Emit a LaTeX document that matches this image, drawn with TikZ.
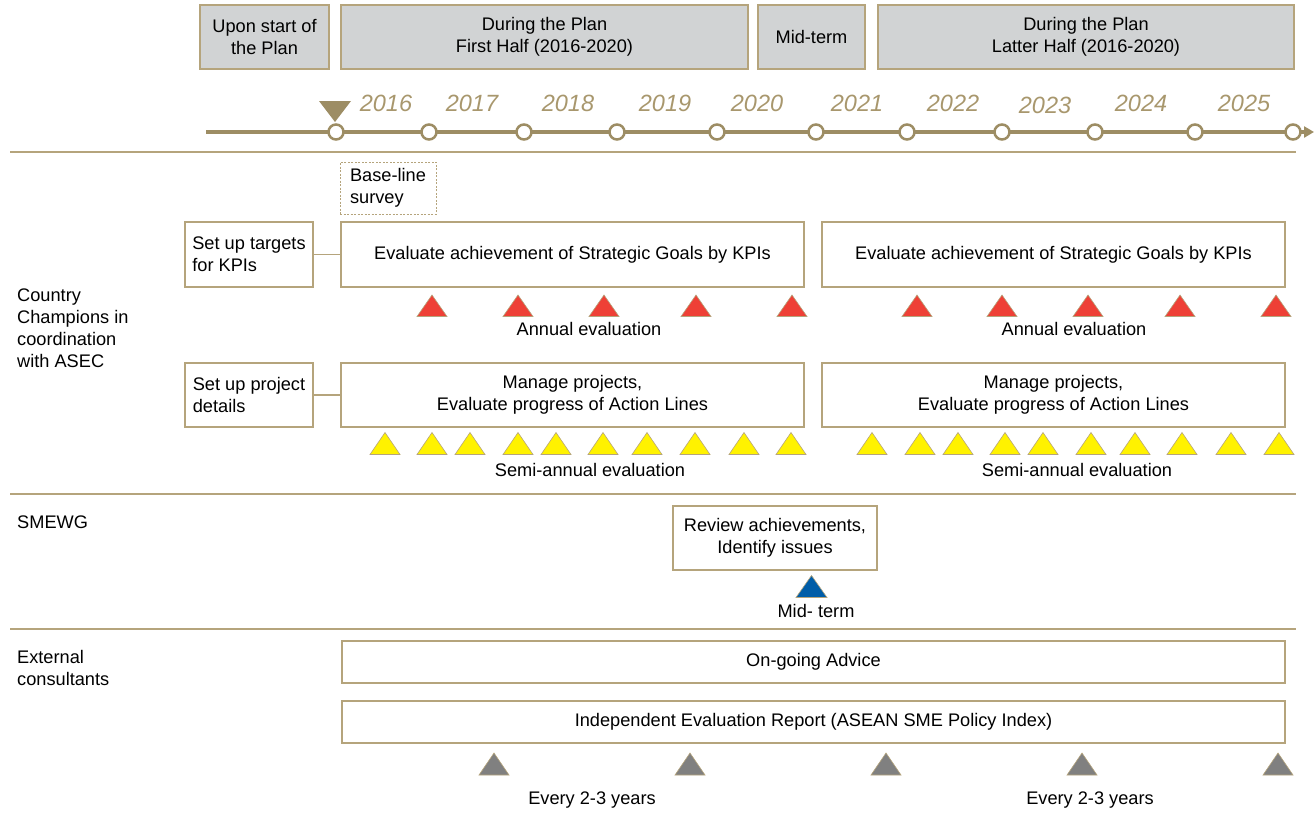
\documentclass[tikz,border=0pt]{standalone}
\usepackage{fontspec}
\setmainfont{Liberation Sans}
\usetikzlibrary{arrows.meta}

\definecolor{tanborder}{HTML}{B5A47C}
\definecolor{tline}{HTML}{9D8D64}
\definecolor{yearcol}{HTML}{A8976D}
\definecolor{headfill}{HTML}{D1D3D4}
\definecolor{tred}{HTML}{EE4036}
\definecolor{tyellow}{HTML}{FFF200}
\definecolor{tblue}{HTML}{005DA8}
\definecolor{tgray}{HTML}{808080}

\begin{document}
\begin{tikzpicture}[x=1pt, y=-1pt,
		every node/.style={font=\fontsize{18.2}{22}\selectfont, inner sep=0pt},
		head/.style={draw=tanborder, line width=1.3pt, fill=headfill, align=center},
		box/.style={draw=tanborder, line width=1.3pt, fill=white, align=center},
		tri/.style={draw=tanborder, line width=0.6pt},
		year/.style={font=\fontsize{23.5}{23.5}\selectfont\itshape, text=yearcol},
		sep/.style={draw=tanborder, line width=1.2pt}]
		\useasboundingbox (0,0) rectangle (1314,814);
		
		% header
		\node[head, minimum width=129, minimum height=64] (Start) at (264.5,37) {Upon start of\\the Plan};
		\node[head, minimum width=407, minimum height=64] (First) at (544.5,37) {During the Plan\\First Half (2016-2020)};
		\node[head, minimum width=107, minimum height=64] (Mid) at (811.5,37) {Mid-term};
		\node[head, minimum width=416, minimum height=64] (Latter) at (1086,37) {During the Plan\\Latter Half (2016-2020)};
		
		% timeline
		\draw[tline, line width=3.8pt, -{Triangle[length=10pt,width=11pt]}] (206,132) -- (1314,132);
		\foreach \x/\n in {336/A,429/B,524/C,617/D,717/E,816/F,907/G,1002/H,1095/I,1195/J,1293/K}
			\node[circle, draw=tline, line width=2.5pt, fill=white, minimum size=15pt] (T\n) at (\x,132) {};
		\fill[tline] (319,101) -- (351,101) -- (335,122) -- cycle;
		\foreach \x/\y/\t in {386/103/2016,472/103/2017,568/103/2018,665/103/2019,757/103/2020,857/103/2021,953/103/2022,1045/105/2023,1141/103/2024,1244/103/2025}
			\node[year] (Y\t) at (\x,\y) {\t};
		
		% rows
		\draw[sep] (10,152) -- (1296,152);
		\draw[sep] (10,494) -- (1296,494);
		\draw[sep] (10,629) -- (1296,629);
		
		\node[anchor=west, align=left] (CC) at (17,328) {Country\\Champions in\\coordination\\with ASEC};
		\node[anchor=west] (SMEWG) at (17,522) {SMEWG};
		\node[anchor=west, align=left] (EC) at (17,668) {External\\consultants};
		
		% country champions
		\node[draw=tanborder, line width=0.8pt, dash pattern=on 2pt off 1.5pt, minimum width=96, minimum height=52, align=left] (Base) at (388,188) {Base-line\\survey};
		\node[box, minimum width=128, minimum height=65, align=left] (KPI) at (249,254.5) {Set up targets\\for KPIs};
		\node[box, minimum width=463, minimum height=65] (GoalsA) at (572.5,254.5) {Evaluate achievement of Strategic Goals by KPIs};
		\node[box, minimum width=463, minimum height=65] (GoalsB) at (1053.5,254.5) {Evaluate achievement of Strategic Goals by KPIs};
		\draw[tanborder, line width=1.3pt] (KPI) -- (GoalsA);
		\foreach \x in {432,518,604,696,792,917,1002,1088,1180,1276}
			\filldraw[tri, fill=tred] (\x-15,316.5) -- (\x,295) -- (\x+15,316.5) -- cycle;
		\node (AnnA) at (589,329) {Annual evaluation};
		\node (AnnB) at (1074,329) {Annual evaluation};
		
		\node[box, minimum width=128, minimum height=64, align=left] (Proj) at (249,395) {Set up project\\details};
		\node[box, minimum width=463, minimum height=64] (ManageA) at (572.5,395) {Manage projects,\\Evaluate progress of Action Lines};
		\node[box, minimum width=463, minimum height=64] (ManageB) at (1053.5,395) {Manage projects,\\Evaluate progress of Action Lines};
		\draw[tanborder, line width=1.3pt] (Proj) -- (ManageA);
		\foreach \x in {385,432,470,518,556,603,647,695,744,791,872,920,958,1005,1043,1091,1135,1182,1231,1279}
			\filldraw[tri, fill=tyellow] (\x-15,454.5) -- (\x,432.5) -- (\x+15,454.5) -- cycle;
		\node (SemiA) at (590,470) {Semi-annual evaluation};
		\node (SemiB) at (1077,470) {Semi-annual evaluation};
		
		% SMEWG
		\node[box, minimum width=204, minimum height=64] (Review) at (775,538) {Review achievements,\\Identify issues};
		\filldraw[tri, fill=tblue] (796,597.5) -- (811.5,575.5) -- (827,597.5) -- cycle;
		\node (MidT) at (816,611) {Mid- term};
		
		% external consultants
		\node[box, minimum width=943, minimum height=42] (Advice) at (813.5,662) {On-going Advice};
		\node[box, minimum width=943, minimum height=42] (Report) at (813.5,722) {Independent Evaluation Report (ASEAN SME Policy Index)};
		\foreach \x in {494,690,886,1082,1278}
			\filldraw[tri, fill=tgray] (\x-15,775) -- (\x,753) -- (\x+15,775) -- cycle;
		\node (EveryA) at (592,800) {Every 2-3 years};
		\node (EveryB) at (1090,800) {Every 2-3 years};
		\end{tikzpicture}
\end{document}
